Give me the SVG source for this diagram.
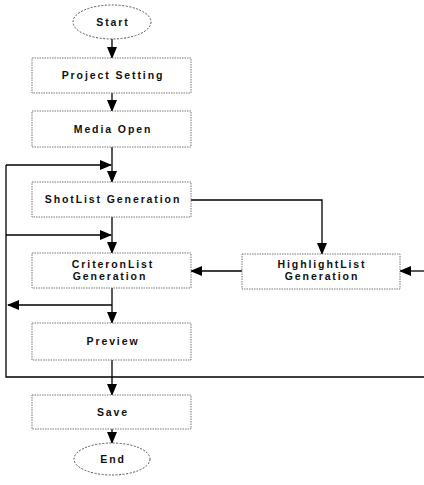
<svg xmlns="http://www.w3.org/2000/svg" width="424" height="485" viewBox="0 0 424 485">
  <defs>
    <marker id="arrow" viewBox="0 0 12 12" refX="11" refY="6" markerWidth="12" markerHeight="12" markerUnits="userSpaceOnUse" orient="auto">
      <path d="M0,1 L12,6 L0,11 Z" fill="#000"/>
    </marker>
    <style>
      .box { fill: #fff; stroke: #777; stroke-width: 1; stroke-dasharray: 1.5 1; }
      .term { fill: #fff; stroke: #555; stroke-width: 1; stroke-dasharray: 2 1.5; }
      .lbl { font-family: "Liberation Sans", Arial, sans-serif; font-size: 10.5px; font-weight: bold; letter-spacing: 1.9px; fill: #111; text-anchor: middle; }
      .wire { fill: none; stroke: #000; stroke-width: 1.3; }
      .arr { marker-end: url(#arrow); }
    </style>
  </defs>
  <rect width="424" height="485" fill="#fff"/>

  <!-- connectors -->
  <g id="connectors">
    <line class="wire arr" x1="112" y1="39" x2="112" y2="58"/>
    <line class="wire arr" x1="112" y1="93" x2="112" y2="111"/>
    <line class="wire arr" x1="112" y1="147" x2="112" y2="182"/>
    <line class="wire arr" x1="112" y1="217" x2="112" y2="253"/>
    <line class="wire arr" x1="112" y1="288" x2="112" y2="323"/>
    <line class="wire arr" x1="112" y1="360" x2="112" y2="395"/>
    <line class="wire arr" x1="112" y1="429" x2="112" y2="443"/>
    <!-- feedback loop on the left -->
    <polyline class="wire" points="424,377 6,377 6,165"/>
    <line class="wire arr" x1="6" y1="165" x2="111" y2="165"/>
    <line class="wire arr" x1="6" y1="235" x2="111" y2="235"/>
    <line class="wire arr" x1="112" y1="305" x2="8" y2="305"/>
    <!-- highlight branch -->
    <polyline class="wire arr" points="191,200 322,200 322,254"/>
    <line class="wire arr" x1="242" y1="271" x2="191" y2="271"/>
    <line class="wire arr" x1="424" y1="271" x2="400" y2="271"/>
  </g>

  <g id="start">
    <ellipse class="term" cx="112" cy="22" rx="39" ry="17"/>
    <text class="lbl" x="113" y="26">Start</text>
  </g>
  <g id="project-setting">
    <rect class="box" x="32" y="58" width="159" height="35"/>
    <text class="lbl" x="113" y="79">Project Setting</text>
  </g>
  <g id="media-open">
    <rect class="box" x="32" y="111" width="159" height="36"/>
    <text class="lbl" x="113" y="133">Media Open</text>
  </g>
  <g id="shotlist">
    <rect class="box" x="32" y="182" width="159" height="35"/>
    <text class="lbl" x="113" y="203">ShotList Generation</text>
  </g>
  <g id="criteronlist">
    <rect class="box" x="32" y="253" width="159" height="35"/>
    <text class="lbl" x="113" y="268">CriteronList</text>
    <text class="lbl" x="110" y="280">Generation</text>
  </g>
  <g id="highlightlist">
    <rect class="box" x="242" y="254" width="158" height="35"/>
    <text class="lbl" x="322" y="268">HighlightList</text>
    <text class="lbl" x="322" y="280">Generation</text>
  </g>
  <g id="preview">
    <rect class="box" x="32" y="323" width="159" height="37"/>
    <text class="lbl" x="113" y="345">Preview</text>
  </g>
  <g id="save">
    <rect class="box" x="32" y="395" width="159" height="34"/>
    <text class="lbl" x="113" y="416">Save</text>
  </g>
  <g id="end">
    <ellipse class="term" cx="112" cy="459" rx="38" ry="16"/>
    <text class="lbl" x="113" y="463">End</text>
  </g>
</svg>
